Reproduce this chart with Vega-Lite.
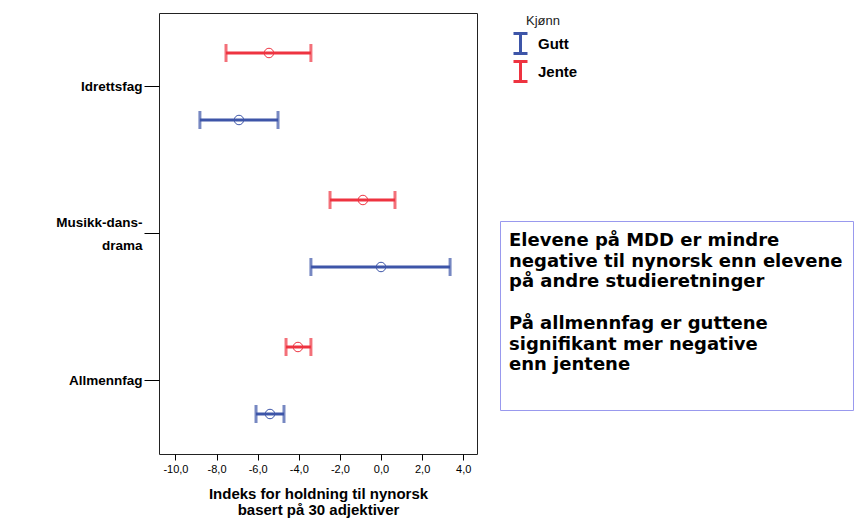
{
  "$schema": "https://vega.github.io/schema/vega-lite/v6.json",
  "padding": {"left": 8, "top": 12, "right": 0, "bottom": 0},
  "autosize": {"type": "pad"},
  "background": "white",
  "config": {"font": "Liberation Sans", "view": {"stroke": null}},
  "resolve": {"scale": {"color": "independent"}, "legend": {"color": "independent"}},
  "spacing": 21,
  "hconcat": [
    {
      "width": 318,
      "height": 441,
      "view": {"stroke": "#222222", "strokeWidth": 1},
      "data": {"values": [
        {"prog": "Idrettsfag", "kjonn": "Jente", "lo": -7.54, "hi": -3.41, "mean": -5.45},
        {"prog": "Idrettsfag", "kjonn": "Gutt", "lo": -8.81, "hi": -5.01, "mean": -6.91},
        {"prog": "Musikk-dans-drama", "kjonn": "Jente", "lo": -2.48, "hi": 0.68, "mean": -0.88},
        {"prog": "Musikk-dans-drama", "kjonn": "Gutt", "lo": -3.41, "hi": 3.36, "mean": 0.0},
        {"prog": "Allmennfag", "kjonn": "Jente", "lo": -4.62, "hi": -3.41, "mean": -4.04},
        {"prog": "Allmennfag", "kjonn": "Gutt", "lo": -6.08, "hi": -4.72, "mean": -5.40}
      ]},
      "encoding": {
        "y": {
          "field": "prog", "type": "nominal",
          "sort": ["Idrettsfag", "Musikk-dans-drama", "Allmennfag"],
          "scale": {"paddingInner": 0, "paddingOuter": 0},
          "axis": {
            "title": null, "domain": false, "tickSize": 15, "tickColor": "black",
            "labelFontSize": 13.5, "labelFontWeight": "bold", "labelColor": "black",
            "labelPadding": 2, "minExtent": 150, "labelLineHeight": 23,
            "labelOffset": {"condition": {"test": "datum.value == 'Musikk-dans-drama'", "value": -11}, "value": 0},
            "labelExpr": "datum.value == 'Musikk-dans-drama' ? ['Musikk-dans-', 'drama'] : datum.value"
          }
        },
        "yOffset": {
          "field": "kjonn", "type": "nominal", "sort": ["Jente", "Gutt"],
          "scale": {"paddingInner": 0, "paddingOuter": 0.097}
        },
        "color": {
          "field": "kjonn", "type": "nominal",
          "scale": {"domain": ["Gutt", "Jente"], "range": ["#3d55a8", "#ee3340"]},
          "legend": null
        }
      },
      "layer": [
        {
          "mark": {"type": "rule", "strokeWidth": 3},
          "encoding": {
            "x": {
              "field": "lo", "type": "quantitative",
              "scale": {"domain": [-10.8, 4.67], "nice": false, "zero": false},
              "axis": {
                "values": [-10, -8, -6, -4, -2, 0, 2, 4],
                "grid": false, "domain": false, "tickSize": 6, "tickColor": "black",
                "labelFontSize": 11, "labelColor": "black", "labelPadding": 3,
                "labelExpr": "(datum.value < 0 ? '-' : '') + replace(format(abs(datum.value), '.1f'), '.', ',')",
                "title": ["Indeks for holdning til nynorsk", "basert på 30 adjektiver"],
                "titleFontSize": 15, "titleFontWeight": "bold", "titleColor": "black",
                "titlePadding": 12, "titleLineHeight": 16
              }
            },
            "x2": {"field": "hi"}
          }
        },
        {
          "mark": {"type": "tick", "thickness": 3, "size": 18},
          "encoding": {"x": {"field": "lo", "type": "quantitative"}}
        },
        {
          "mark": {"type": "tick", "thickness": 3, "size": 18},
          "encoding": {"x": {"field": "hi", "type": "quantitative"}}
        },
        {
          "mark": {"type": "point", "shape": "circle", "size": 90, "filled": false, "strokeWidth": 1, "opacity": 1},
          "encoding": {"x": {"field": "mean", "type": "quantitative"}}
        }
      ]
    },
    {
      "spacing": 20,
      "vconcat": [
        {
          "width": 120,
          "height": 187,
          "data": {"values": [{"kjonn": "Gutt"}, {"kjonn": "Jente"}]},
          "mark": {"type": "point", "filled": false, "opacity": 0},
          "encoding": {
            "color": {
              "field": "kjonn", "type": "nominal",
              "scale": {"domain": ["Gutt", "Jente"], "range": ["#3d55a8", "#ee3340"]},
              "legend": {
                "title": "Kjønn", "orient": "none", "legendX": 9, "legendY": 2,
                "titleAnchor": "middle", "titleFontSize": 13, "titleFontWeight": "normal",
                "titleColor": "#222222", "titlePadding": 4,
                "symbolType": "M-0.7,-1H0.7M0,-1V1M-0.7,1H0.7",
                "symbolSize": 400, "symbolStrokeWidth": 3, "symbolOpacity": 1,
                "labelFontSize": 15, "labelFontWeight": "bold", "labelColor": "black",
                "labelOffset": 6, "rowPadding": -10
              }
            }
          }
        },
        {
          "width": 353,
          "height": 189,
          "view": {"stroke": "#9999ee", "strokeWidth": 1},
          "data": {"values": [
            {"t": ["Elevene på MDD er mindre", "negative til nynorsk enn elevene", "på andre studieretninger", "\u200b", "På allmennfag er guttene", "signifikant mer negative", "enn jentene"]}
          ]},
          "mark": {"type": "text", "align": "left", "baseline": "top", "dx": 9, "dy": 11, "font": "DejaVu Sans", "fontSize": 18, "fontWeight": "bold", "lineHeight": 20.7, "color": "black"},
          "encoding": {
            "x": {"datum": 0, "type": "quantitative", "scale": {"domain": [0, 1]}, "axis": null},
            "y": {"datum": 1, "type": "quantitative", "scale": {"domain": [0, 1]}, "axis": null},
            "text": {"field": "t", "type": "nominal"}
          }
        }
      ]
    }
  ]
}
